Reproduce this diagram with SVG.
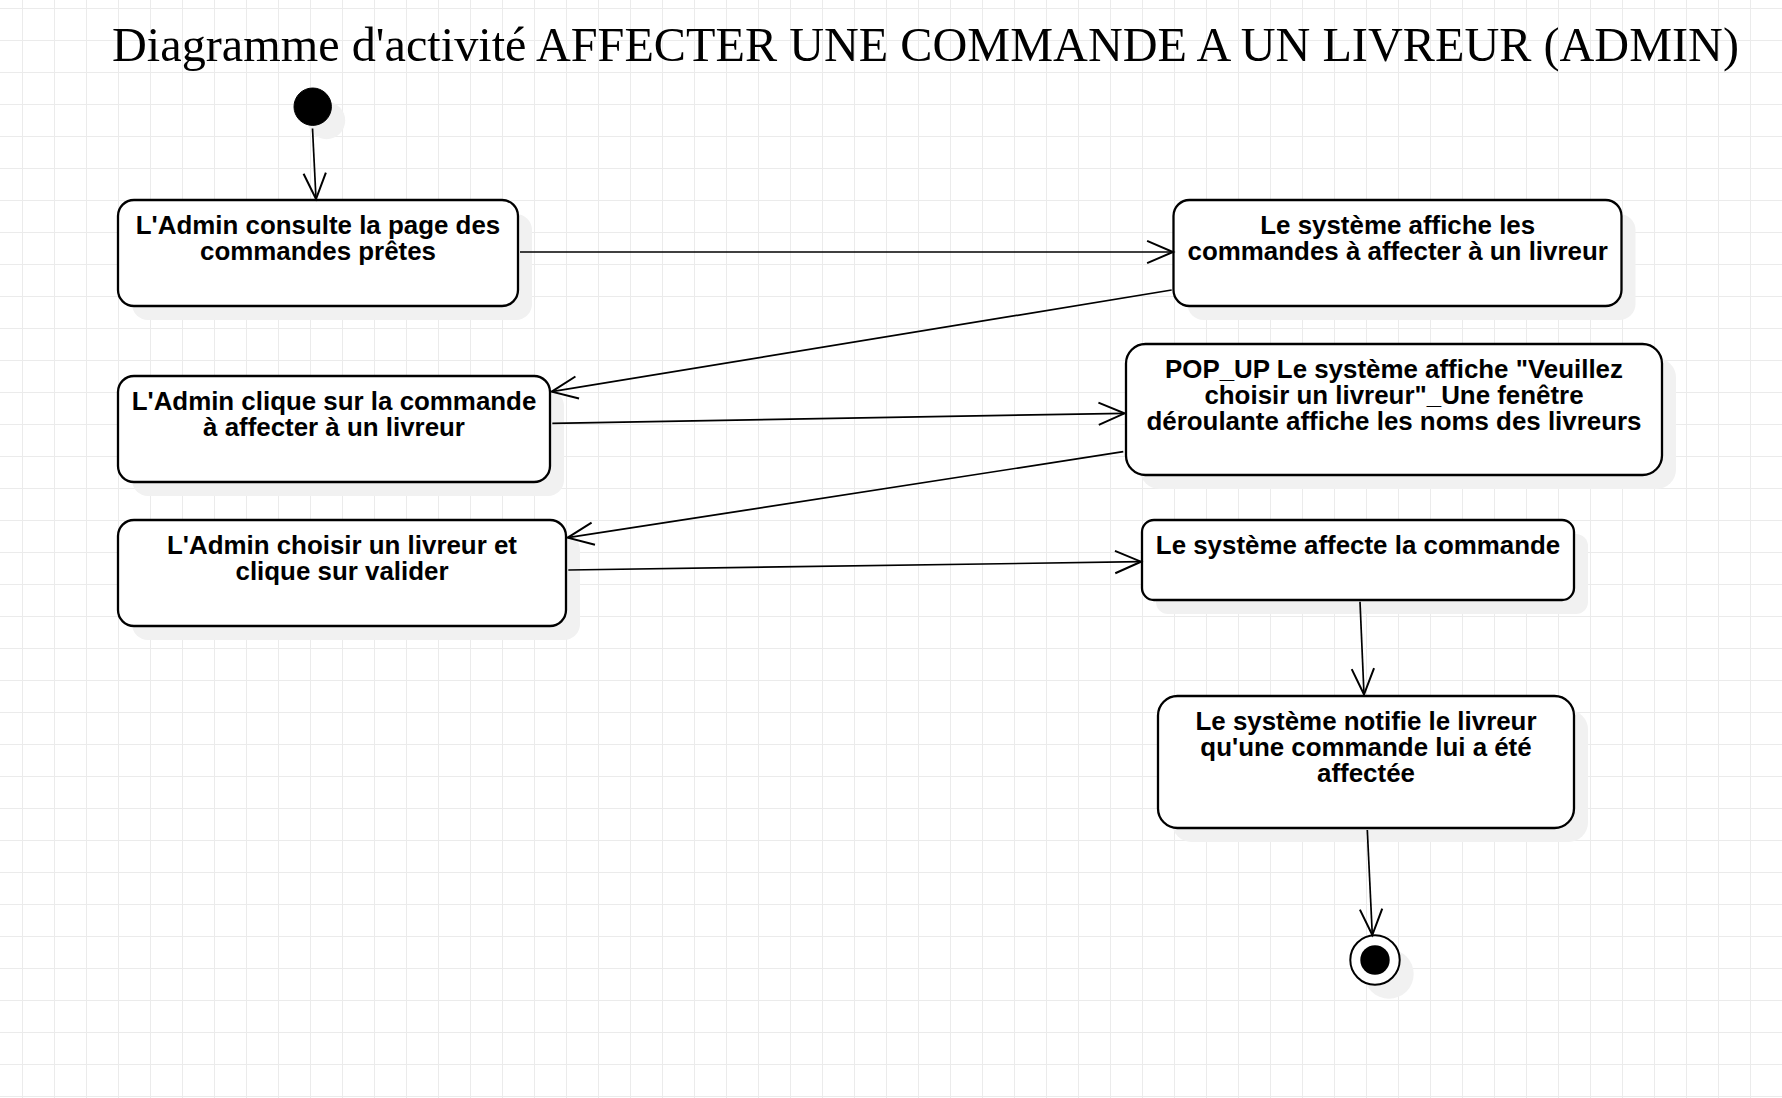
<svg xmlns="http://www.w3.org/2000/svg" width="1782" height="1098" viewBox="0 0 1782 1098">
<style>
.grid{stroke:#ebebeb;stroke-width:1;fill:none}
.node{fill:#ffffff;stroke:#000000;stroke-width:2.3}
.shadow{fill:#f1f1f1;stroke:none}
.lbl{font-family:"Liberation Sans",Arial,sans-serif;font-weight:bold;font-size:25.9px;fill:#000000;text-anchor:middle}
.title{font-family:"Liberation Serif","Times New Roman",serif;font-size:48.2px;fill:#000000}
.edge{fill:none;stroke:#000000;stroke-width:1.7}
</style>
<defs>
<pattern id="gridp" x="22" y="8" width="32" height="32" patternUnits="userSpaceOnUse">
<path class="grid" d="M 0.5 0 L 0.5 32 M 0 0.5 L 32 0.5"/>
</pattern>
<marker id="arr" markerUnits="userSpaceOnUse" markerWidth="40" markerHeight="40" viewBox="-30 -15 34 30" refX="0" refY="0" orient="auto" overflow="visible">
<path d="M -22 -9.5 L 0 0 L -22 9.5" fill="none" stroke="#000000" stroke-width="1.7"/>
</marker>
</defs>
<rect x="0" y="0" width="1782" height="1098" fill="#ffffff"/>
<rect x="0" y="0" width="1782" height="1098" fill="url(#gridp)"/>

<text class="title" x="112" y="61" textLength="1627" lengthAdjust="spacing">Diagramme d'activité AFFECTER UNE COMMANDE A UN LIVREUR (ADMIN)</text>

<g id="start">
<circle class="shadow" cx="326.5" cy="120.5" r="18.7"/>
<circle cx="312.7" cy="106.7" r="18.7" fill="#000000" stroke="#000000" stroke-width="1"/>
</g>

<g id="n1">
<rect class="shadow" x="132" y="214" width="400" height="106" rx="16"/>
<rect class="node" x="118" y="200" width="400" height="106" rx="16"/>
<text class="lbl" x="318" y="233.7">L'Admin consulte la page des</text>
<text class="lbl" x="318" y="259.6">commandes prêtes</text>
</g>

<g id="n2">
<rect class="shadow" x="1187.5" y="214" width="448" height="106" rx="16"/>
<rect class="node" x="1173.5" y="200" width="448" height="106" rx="16"/>
<text class="lbl" x="1397.7" y="233.7">Le système affiche les</text>
<text class="lbl" x="1397.7" y="259.6">commandes à affecter à un livreur</text>
</g>

<g id="n3">
<rect class="shadow" x="132" y="390" width="432" height="106" rx="16"/>
<rect class="node" x="118" y="376" width="432" height="106" rx="16"/>
<text class="lbl" x="334" y="409.7">L'Admin clique sur la commande</text>
<text class="lbl" x="334" y="435.6">à affecter à un livreur</text>
</g>

<g id="n4">
<rect class="shadow" x="1140" y="358" width="536" height="131" rx="19.5"/>
<rect class="node" x="1126" y="344" width="536" height="131" rx="19.5"/>
<text class="lbl" x="1394" y="377.7">POP_UP Le système affiche "Veuillez</text>
<text class="lbl" x="1394" y="403.6">choisir un livreur"_Une fenêtre</text>
<text class="lbl" x="1394" y="429.5">déroulante affiche les noms des livreurs</text>
</g>

<g id="n5">
<rect class="shadow" x="132" y="534" width="448" height="106" rx="16"/>
<rect class="node" x="118" y="520" width="448" height="106" rx="16"/>
<text class="lbl" x="342" y="553.7">L'Admin choisir un livreur et</text>
<text class="lbl" x="342" y="579.6">clique sur valider</text>
</g>

<g id="n6">
<rect class="shadow" x="1156" y="534" width="432" height="80" rx="12"/>
<rect class="node" x="1142" y="520" width="432" height="80" rx="12"/>
<text class="lbl" x="1358" y="553.7">Le système affecte la commande</text>
</g>

<g id="n7">
<rect class="shadow" x="1172" y="710" width="416" height="132" rx="19.5"/>
<rect class="node" x="1158" y="696" width="416" height="132" rx="19.5"/>
<text class="lbl" x="1366" y="729.7">Le système notifie le livreur</text>
<text class="lbl" x="1366" y="755.6">qu'une commande lui a été</text>
<text class="lbl" x="1366" y="781.5">affectée</text>
</g>

<g id="end">
<circle class="shadow" cx="1389" cy="974" r="24.7"/>
<circle cx="1375" cy="960" r="24.7" fill="#ffffff" stroke="#000000" stroke-width="2"/>
<circle cx="1375" cy="960" r="14.7" fill="#000000"/>
</g>

<g id="connectors">
<line class="edge" x1="312.5" y1="128.5" x2="316" y2="199" marker-end="url(#arr)"/>
<line class="edge" x1="520" y1="252" x2="1173" y2="252" marker-end="url(#arr)"/>
<line class="edge" x1="1171.7" y1="290" x2="551.7" y2="391.7" marker-end="url(#arr)"/>
<line class="edge" x1="552.3" y1="423.3" x2="1124.5" y2="413.3" marker-end="url(#arr)"/>
<line class="edge" x1="1123.3" y1="451.7" x2="567.7" y2="537.7" marker-end="url(#arr)"/>
<line class="edge" x1="568.3" y1="570" x2="1141" y2="561.7" marker-end="url(#arr)"/>
<line class="edge" x1="1360" y1="601.7" x2="1364" y2="694.5" marker-end="url(#arr)"/>
<line class="edge" x1="1367.3" y1="830" x2="1372.3" y2="935" marker-end="url(#arr)"/>
</g>
</svg>
